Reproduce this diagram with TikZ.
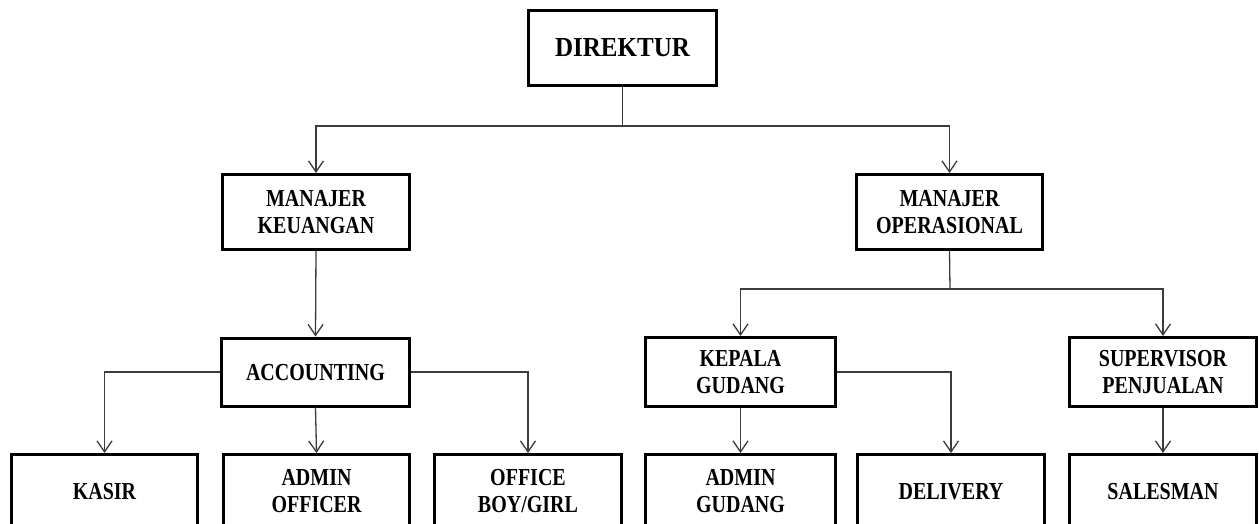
\documentclass[tikz,border=0pt]{standalone}
\usepackage{fontspec}
\usepackage{graphicx}
\setmainfont{Liberation Serif}
\usetikzlibrary{arrows.meta, positioning}
\definecolor{wire}{RGB}{60,60,60}
\newcommand{\tallcap}[2][1.22]{\raisebox{-3pt}[\height][\depth]{\scalebox{1}[#1]{\begin{tabular}{@{}c@{}}#2\end{tabular}}}}

\tikzset{
    unitbox/.style={draw=black, line width=3pt, fill=white, align=center,
        inner sep=0pt, font=\bfseries\fontsize{20}{22}\selectfont},
    link/.style={draw=wire, line width=1.3pt, -{Straight Barb[length=11pt, width=15pt, line width=1.3pt]}},
    plain/.style={draw=wire, line width=1.3pt}
}

\begin{document}
\begin{tikzpicture}[x=1pt, y=-1pt]
    \clip (0,0) rectangle (1259,524);
    \fill[white] (0,0) rectangle (1259,524);

    % Top level
    \node[unitbox, minimum width=188pt, minimum height=75pt,
          font=\bfseries\fontsize{25}{27}\selectfont] (dir) at (622.5, 48) {\tallcap[1.1]{DIREKTUR}};

    % Managers
    \node[unitbox, minimum width=187pt, minimum height=75pt] (mk) at (316, 212) {\tallcap{MANAJER\\KEUANGAN}};
    \node[unitbox, minimum width=186pt, minimum height=75pt] (mo) at (949.5, 212) {\tallcap{MANAJER\\OPERASIONAL}};

    % Third level
    \node[unitbox, minimum width=188pt, minimum height=68pt] (acc) at (315.5, 372) {\tallcap{ACCOUNTING}};
    \node[unitbox, minimum width=190pt, minimum height=69pt] (kg) at (740.5, 372) {\tallcap{KEPALA\\GUDANG}};
    \node[unitbox, minimum width=187pt, minimum height=69pt] (sp) at (1163, 372) {\tallcap{SUPERVISOR\\PENJUALAN}};

    % Bottom level (cut by page edge)
    \node[unitbox, minimum width=186pt, minimum height=73pt] (kasir) at (104.5, 491) {\tallcap{KASIR}};
    \node[unitbox, minimum width=186pt, minimum height=73pt] (ao) at (316.5, 491) {\tallcap{ADMIN\\OFFICER}};
    \node[unitbox, minimum width=187pt, minimum height=73pt] (ob) at (528, 491) {\tallcap{OFFICE\\BOY/GIRL}};
    \node[unitbox, minimum width=190pt, minimum height=73pt] (ag) at (740.5, 491) {\tallcap{ADMIN\\GUDANG}};
    \node[unitbox, minimum width=187pt, minimum height=73pt] (del) at (951, 491) {\tallcap{DELIVERY}};
    \node[unitbox, minimum width=187pt, minimum height=73pt] (sal) at (1163, 491) {\tallcap{SALESMAN}};

    % Junctions
    \coordinate (j1) at (622.5, 126);
    \coordinate (j2) at (950, 289);

    % Connectors
    \draw[plain] (dir.south) -- (j1);
    \draw[link] (j1) -| (mk.north);
    \draw[link] (j1) -| (mo.north);

    \draw[link] (mk.south) -- (acc.north);
    \draw[link] (acc.west) -| (kasir.north);
    \draw[link] (acc.south) -- (ao.north);
    \draw[link] (acc.east) -| (ob.north);

    \draw[plain] (mo.south) -- (j2);
    \draw[link] (j2) -| (kg.north);
    \draw[link] (j2) -| (sp.north);

    \draw[link] (kg.south) -- (ag.north);
    \draw[link] (kg.east) -| (del.north);
    \draw[link] (sp.south) -- (sal.north);

\end{tikzpicture}
\end{document}
